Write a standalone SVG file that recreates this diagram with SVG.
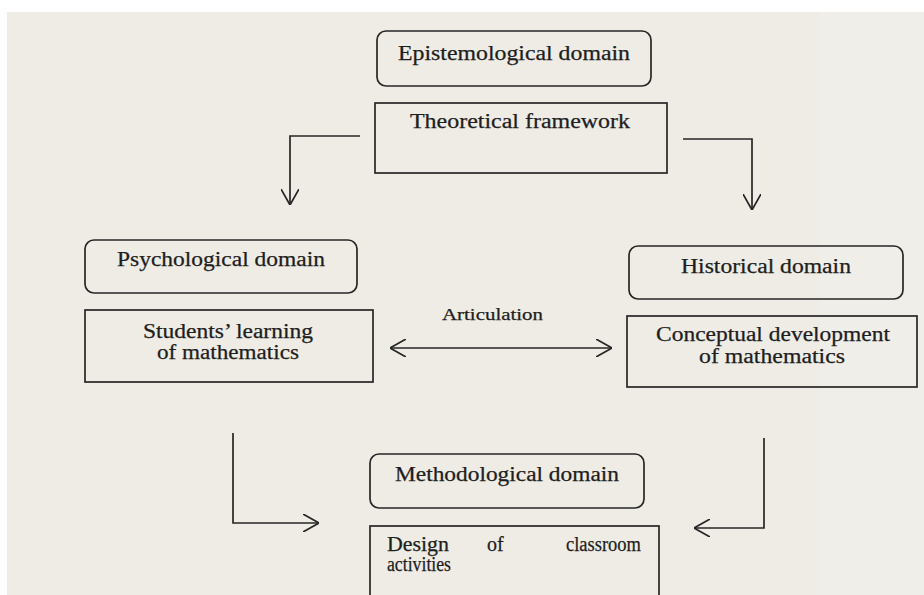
<svg xmlns="http://www.w3.org/2000/svg" width="924" height="595" viewBox="0 0 924 595">
<defs>
<style>
.box{fill:none;stroke:#262626;stroke-width:1.7}
.t{font-family:"Liberation Serif","Times New Roman",serif;font-size:20px;fill:#1e1e1e;stroke:#1e1e1e;stroke-width:0.25}
.conn{fill:none;stroke:#262626;stroke-width:1.7}
</style>
<marker id="arr" viewBox="0 0 16 18" refX="16" refY="9" markerWidth="16" markerHeight="18" markerUnits="userSpaceOnUse" orient="auto-start-reverse">
<path d="M0,0 L16,9 L0,18" fill="none" stroke="#262626" stroke-width="1.7"/>
</marker>
</defs>
<rect width="924" height="595" fill="#ffffff"/>
<rect x="7" y="12" width="917" height="583" fill="#eeece5"/>
<rect x="820" y="12" width="104" height="583" fill="#f0eee9"/>

<g id="epistemological">
<rect class="box" x="377" y="31" width="274" height="55" rx="9"/>
<text class="t" x="398" y="60" textLength="232" lengthAdjust="spacingAndGlyphs">Epistemological domain</text>
</g>
<g id="theoretical">
<rect class="box" x="375" y="103" width="292" height="70"/>
<text class="t" x="410" y="128" textLength="220" lengthAdjust="spacingAndGlyphs">Theoretical framework</text>
</g>
<g id="psychological">
<rect class="box" x="85" y="240" width="272" height="53" rx="9"/>
<text class="t" x="117" y="266" textLength="208" lengthAdjust="spacingAndGlyphs">Psychological domain</text>
</g>
<g id="students">
<rect class="box" x="85" y="310" width="288" height="72"/>
<text class="t" x="143" y="338" textLength="170" lengthAdjust="spacingAndGlyphs">Students’ learning</text>
<text class="t" x="157" y="359" textLength="142" lengthAdjust="spacingAndGlyphs">of mathematics</text>
</g>
<g id="historical">
<rect class="box" x="629" y="246" width="274" height="53" rx="9"/>
<text class="t" x="681" y="273" textLength="170" lengthAdjust="spacingAndGlyphs">Historical domain</text>
</g>
<g id="conceptual">
<rect class="box" x="627" y="316" width="290" height="71"/>
<text class="t" x="656" y="341" textLength="234" lengthAdjust="spacingAndGlyphs">Conceptual development</text>
<text class="t" x="699" y="363" textLength="146" lengthAdjust="spacingAndGlyphs">of mathematics</text>
</g>
<g id="methodological">
<rect class="box" x="370" y="454" width="274" height="54" rx="9"/>
<text class="t" x="395" y="481" textLength="224" lengthAdjust="spacingAndGlyphs">Methodological domain</text>
</g>
<g id="design">
<rect class="box" x="370" y="526" width="289" height="80"/>
<text class="t" x="387" y="551" textLength="62" lengthAdjust="spacingAndGlyphs">Design</text>
<text class="t" x="487" y="551">of</text>
<text class="t" x="566" y="551" textLength="75" lengthAdjust="spacingAndGlyphs">classroom</text>
<text class="t" x="387" y="571" textLength="64" lengthAdjust="spacingAndGlyphs">activities</text>
</g>

<g id="connectors">
<path class="conn" d="M360,136 H290 V205" marker-end="url(#arr)"/>
<path class="conn" d="M683,139 H752 V210" marker-end="url(#arr)"/>
<path class="conn" d="M390,348 H612" marker-start="url(#arr)" marker-end="url(#arr)"/>
<text class="t" x="442" y="320" style="font-size:17px" textLength="101" lengthAdjust="spacingAndGlyphs">Articulation</text>
<path class="conn" d="M233,433 V523 H319" marker-end="url(#arr)"/>
<path class="conn" d="M764,438 V528 H694" marker-end="url(#arr)"/>
</g>
</svg>
